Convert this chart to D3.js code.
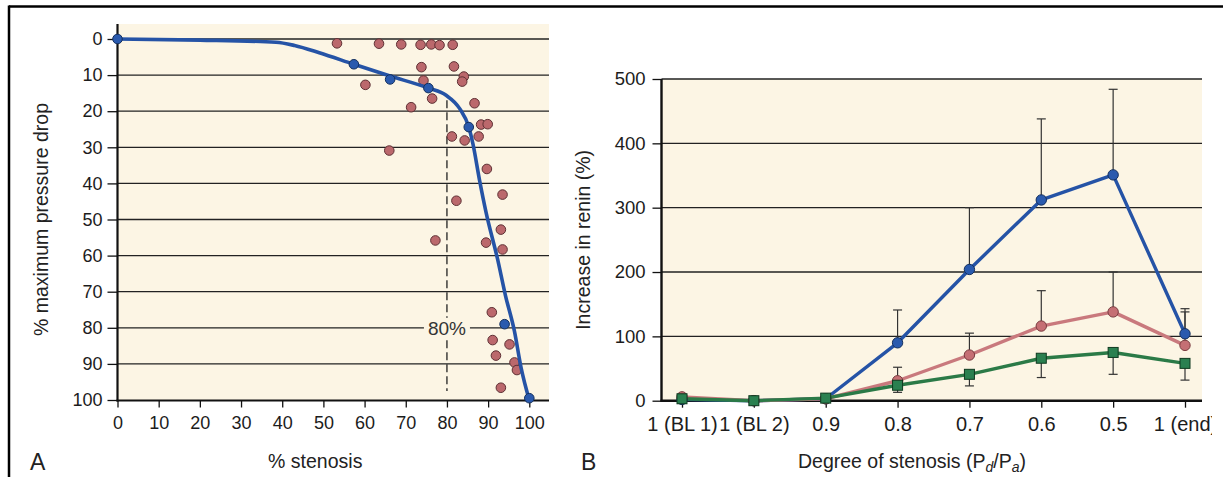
<!DOCTYPE html>
<html><head><meta charset="utf-8">
<script src="https://cdn.jsdelivr.net/npm/d3@7"></script>
<style>
html,body{margin:0;padding:0;background:#fff;}
svg{display:block;font-family:"Liberation Sans",Arial,Helvetica,sans-serif;}
</style></head>
<body>
<svg id="chart" width="1228" height="477"></svg>
<script>
// ---------- Panel A data ----------
const stenosisTicks = [0,10,20,30,40,50,60,70,80,90,100];
const dropTicks = [0,10,20,30,40,50,60,70,80,90,100];
// fitted curve (% stenosis, % max pressure drop)
const curveX = [0, 20, 38.5, 43, 49, 57.4, 66, 75.5, 79.8, 83.1, 85.3, 86.3, 87.9, 89.5, 92.3, 94.2, 96.4, 98, 100];
const curveY = [0, 0.3, 0.9, 1.8, 3.8, 7, 10.2, 13.6, 15.6, 19.3, 24.4, 29, 39, 48, 61, 71, 81, 91, 100];
// blue measured points
const blueX = [0, 57.4, 66.2, 75.5, 85.3, 94, 100];
const blueY = [0, 7, 11.2, 13.6, 24.4, 79, 99.5];
// pink scatter points
const pinkX = [53.3,63.5,68.9,73.6,76.2,78.2,81.4,73.8,81.7,84.1,83.7,74.3,60.2,76.4,71.3,86.7,88.3,89.9,81.2,84.3,87.7,66,89.7,93.5,82.3,93.1,77.2,89.5,93.5,90.9,91.1,95.2,91.9,96.4,97,93.1];
const pinkY = [1.2,1.3,1.5,1.6,1.5,1.7,1.6,7.8,7.6,10.4,11.8,11.5,12.7,16.5,18.9,17.8,23.7,23.6,27,28.1,27,30.9,36,43.1,44.8,52.8,55.8,56.4,58.3,75.7,83.4,84.6,87.7,89.6,91.7,96.6];
const thresholdX = 80;
const thresholdSpan = [17, 97.5];

// ---------- Panel B data ----------
const categories = ["1 (BL 1)","1 (BL 2)","0.9","0.8","0.7","0.6","0.5","1 (end)"];
const reninTicks = [0,100,200,300,400,500];
const blueVals  = [2, 0, 3, 90, 204, 312, 351, 104];
const pinkVals  = [6, 0, 3, 31, 71, 116, 138, 86];
const greenVals = [3, 0, 4, 24, 41, 66, 75, 58];
const blueUpper  = [null, null, null, 141, 300, 438, 484, 143];
const pinkUpper  = [null, null, null, 52, 105, 171, 200, 138];
const greenLower = [-4, null, null, 13, 23, 36, 41, 32];

const svg = d3.select("#chart");
const INK = "#1c1c1c";
const CREAM = "#fcf5e4";

// frame
svg.append("line").attr("x1",9).attr("x2",1223).attr("y1",6.5).attr("y2",6.5).attr("stroke","#000").attr("stroke-width",2.5);
svg.append("line").attr("x1",9).attr("x2",9).attr("y1",5.5).attr("y2",477).attr("stroke","#000").attr("stroke-width",2.5);

// ================= Panel A =================
const xL = d3.scaleLinear().domain([0,100]).range([117.5,529.3]);
const yL = d3.scaleLinear().domain([0,100]).range([39,400]);
const aRight = 549, aTop = 24, aBottom = 400.5;
const gA = svg.append("g");
gA.append("rect").attr("x",xL(0)).attr("y",aTop).attr("width",aRight-xL(0)).attr("height",aBottom-aTop).attr("fill",CREAM);
// gridlines
gA.append("g").selectAll("line").data(dropTicks.filter(d=>d<100)).join("line")
  .attr("x1",xL(0)).attr("x2",aRight).attr("y1",d=>yL(d)).attr("y2",d=>yL(d))
  .attr("stroke","#222").attr("stroke-width",1.3);
// dashed threshold
gA.append("line").attr("x1",xL(thresholdX)).attr("x2",xL(thresholdX))
  .attr("y1",yL(thresholdSpan[0])).attr("y2",yL(thresholdSpan[1]))
  .attr("stroke","#222").attr("stroke-width",1.3).attr("stroke-dasharray","8,4");
// 80% label with background
gA.append("rect").attr("x",xL(thresholdX)-23).attr("y",yL(80)-10).attr("width",46).attr("height",20).attr("fill",CREAM);
gA.append("text").attr("x",xL(thresholdX)).attr("y",yL(80)+7).attr("text-anchor","middle")
  .attr("font-size",19).attr("fill","#333").text("80%");
// y axis
const axL = d3.axisLeft(yL).tickValues(dropTicks).tickSize(10).tickSizeOuter(0).tickPadding(5);
const gyL = gA.append("g").attr("transform",`translate(${xL(0)},0)`).call(axL);
gyL.select(".domain").remove();
gyL.selectAll(".tick line").attr("stroke","#111").attr("stroke-width",1.3);
gyL.selectAll(".tick text").attr("font-size",18).attr("fill",INK).attr("font-family","Liberation Sans, Arial, sans-serif");
gA.append("line").attr("x1",xL(0)).attr("x2",xL(0)).attr("y1",aTop).attr("y2",aBottom+1).attr("stroke","#111").attr("stroke-width",2.2);
// x axis
const axLB = d3.axisBottom(xL).tickValues(stenosisTicks).tickSize(7).tickSizeOuter(0).tickPadding(9);
const gxL = gA.append("g").attr("transform",`translate(0,${aBottom})`).call(axLB);
gxL.select(".domain").remove();
gxL.selectAll(".tick line").attr("stroke","#111").attr("stroke-width",1.3);
gxL.selectAll(".tick text").attr("font-size",18).attr("fill",INK).attr("font-family","Liberation Sans, Arial, sans-serif");
gA.append("line").attr("x1",xL(0)-1).attr("x2",aRight).attr("y1",aBottom).attr("y2",aBottom).attr("stroke","#111").attr("stroke-width",2.2);
// pink scatter
gA.append("g").selectAll("circle").data(pinkX.map((x,i)=>[x,pinkY[i]])).join("circle")
  .attr("cx",d=>xL(d[0])).attr("cy",d=>yL(d[1])).attr("r",4.8)
  .attr("fill","#bb686c").attr("stroke","#5e3034").attr("stroke-width",1);
// curve
const curvePts = curveX.map((x,i)=>[x,curveY[i]]);
gA.append("path").datum(curvePts)
  .attr("d",d3.line().x(d=>xL(d[0])).y(d=>yL(d[1])).curve(d3.curveMonotoneX))
  .attr("fill","none").attr("stroke","#2553a6").attr("stroke-width",3.6).attr("stroke-linejoin","round");
// blue points
gA.append("g").selectAll("circle").data(blueX.map((x,i)=>[x,blueY[i]])).join("circle")
  .attr("cx",d=>xL(d[0])).attr("cy",d=>yL(d[1])).attr("r",4.8)
  .attr("fill","#2a5aae").attr("stroke","#14305e").attr("stroke-width",1);
// titles
svg.append("text").attr("transform",`translate(48,${(yL(0)+yL(100))/2}) rotate(-90)`)
  .attr("text-anchor","middle").attr("font-size",19.5).attr("fill","#222").text("% maximum pressure drop");
svg.append("text").attr("x",(xL(0)+aRight)/2-18).attr("y",468).attr("text-anchor","middle")
  .attr("font-size",19.5).attr("fill","#222").text("% stenosis");
svg.append("text").attr("x",30).attr("y",470).attr("font-size",23).attr("fill","#222").text("A");

// ================= Panel B =================
const xR = d3.scalePoint().domain(categories).range([682,1185]);
const yR = d3.scaleLinear().domain([0,500]).range([400.7,79]);
const bLeft = 661.5, bRight = 1202;
const gB = svg.append("g");
gB.append("rect").attr("x",bLeft).attr("y",yR(500)).attr("width",bRight-bLeft).attr("height",yR(0)-yR(500)).attr("fill",CREAM);
gB.append("g").selectAll("line").data(reninTicks.filter(d=>d>0)).join("line")
  .attr("x1",bLeft).attr("x2",bRight).attr("y1",d=>yR(d)).attr("y2",d=>yR(d))
  .attr("stroke","#222").attr("stroke-width",1.3);
// y axis
const axR = d3.axisLeft(yR).tickValues(reninTicks).tickSize(9).tickSizeOuter(0).tickPadding(7);
const gyR = gB.append("g").attr("transform",`translate(${bLeft},0)`).call(axR);
gyR.select(".domain").remove();
gyR.selectAll(".tick line").attr("stroke","#111").attr("stroke-width",1.3);
gyR.selectAll(".tick text").attr("font-size",18.5).attr("fill",INK).attr("font-family","Liberation Sans, Arial, sans-serif");
gB.append("line").attr("x1",bLeft).attr("x2",bLeft).attr("y1",yR(500)).attr("y2",yR(0)+1).attr("stroke","#111").attr("stroke-width",2.4);
// x axis (labels clipped at the right edge like the original)
const clip = svg.append("defs").append("clipPath").attr("id","clipB");
clip.append("rect").attr("x",600).attr("y",380).attr("width",612).attr("height",70);
const gxClip = gB.append("g").attr("clip-path","url(#clipB)");
const axRB = d3.axisBottom(xR).tickSize(7).tickSizeOuter(0).tickPadding(9);
const gxR = gxClip.append("g").attr("transform",`translate(0,${yR(0)})`).call(axRB);
gxR.select(".domain").remove();
gxR.selectAll(".tick line").attr("stroke","#111").attr("stroke-width",1.3);
gxR.selectAll(".tick text").attr("font-size",20).attr("fill",INK).attr("font-family","Liberation Sans, Arial, sans-serif");
gB.append("line").attr("x1",bLeft-1).attr("x2",bRight).attr("y1",yR(0)).attr("y2",yR(0)).attr("stroke","#111").attr("stroke-width",2.4);

// error bars
function errBars(vals, ends, color){
  const data = categories.map((c,i)=>({c, v:vals[i], e:ends[i]})).filter(d=>d.e!==null);
  const g = gB.append("g").attr("stroke",color).attr("stroke-width",1.2);
  g.selectAll("line.v").data(data).join("line").attr("class","v")
    .attr("x1",d=>xR(d.c)).attr("x2",d=>xR(d.c)).attr("y1",d=>yR(d.v)).attr("y2",d=>yR(d.e));
  g.selectAll("line.c").data(data).join("line").attr("class","c")
    .attr("x1",d=>xR(d.c)-4.5).attr("x2",d=>xR(d.c)+4.5).attr("y1",d=>yR(d.e)).attr("y2",d=>yR(d.e));
}
errBars(blueVals, blueUpper, "#333");
errBars(pinkVals, pinkUpper, "#333");
errBars(greenVals, greenLower, "#333");

const lineGen = d3.line().x((d,i)=>xR(categories[i])).y(d=>yR(d));
gB.append("path").datum(blueVals).attr("d",lineGen).attr("fill","none").attr("stroke","#2553a6").attr("stroke-width",3.4).attr("stroke-linejoin","round");
gB.append("path").datum(pinkVals).attr("d",lineGen).attr("fill","none").attr("stroke","#c9797d").attr("stroke-width",3.4).attr("stroke-linejoin","round");
gB.append("path").datum(greenVals).attr("d",lineGen).attr("fill","none").attr("stroke","#2b7a47").attr("stroke-width",3.4).attr("stroke-linejoin","round");

gB.append("g").selectAll("circle").data(blueVals).join("circle")
  .attr("cx",(d,i)=>xR(categories[i])).attr("cy",d=>yR(d)).attr("r",5.2)
  .attr("fill","#2a5aae").attr("stroke","#14305e").attr("stroke-width",1);
gB.append("g").selectAll("circle").data(pinkVals).join("circle")
  .attr("cx",(d,i)=>xR(categories[i])).attr("cy",d=>yR(d)).attr("r",5.2)
  .attr("fill","#c56f74").attr("stroke","#7a3c40").attr("stroke-width",1);
gB.append("g").selectAll("rect").data(greenVals).join("rect")
  .attr("x",(d,i)=>xR(categories[i])-5).attr("y",d=>yR(d)-5).attr("width",10).attr("height",10)
  .attr("fill","#2a8050").attr("stroke","#0f3a20").attr("stroke-width",1);

// titles
svg.append("text").attr("transform",`translate(590,${(yR(0)+yR(500))/2}) rotate(-90)`)
  .attr("text-anchor","middle").attr("font-size",19.5).attr("fill","#222").text("Increase in renin (%)");
const tB = svg.append("text").attr("x",912).attr("y",468).attr("text-anchor","middle").attr("font-size",19.5).attr("fill","#222");
tB.append("tspan").text("Degree of stenosis (P");
tB.append("tspan").attr("font-size",14).attr("font-style","italic").attr("dy",4).text("d");
tB.append("tspan").attr("dy",-4).text("/P");
tB.append("tspan").attr("font-size",14).attr("font-style","italic").attr("dy",4).text("a");
tB.append("tspan").attr("dy",-4).text(")");
svg.append("text").attr("x",581).attr("y",470).attr("font-size",23).attr("fill","#222").text("B");
</script>
</body></html>
